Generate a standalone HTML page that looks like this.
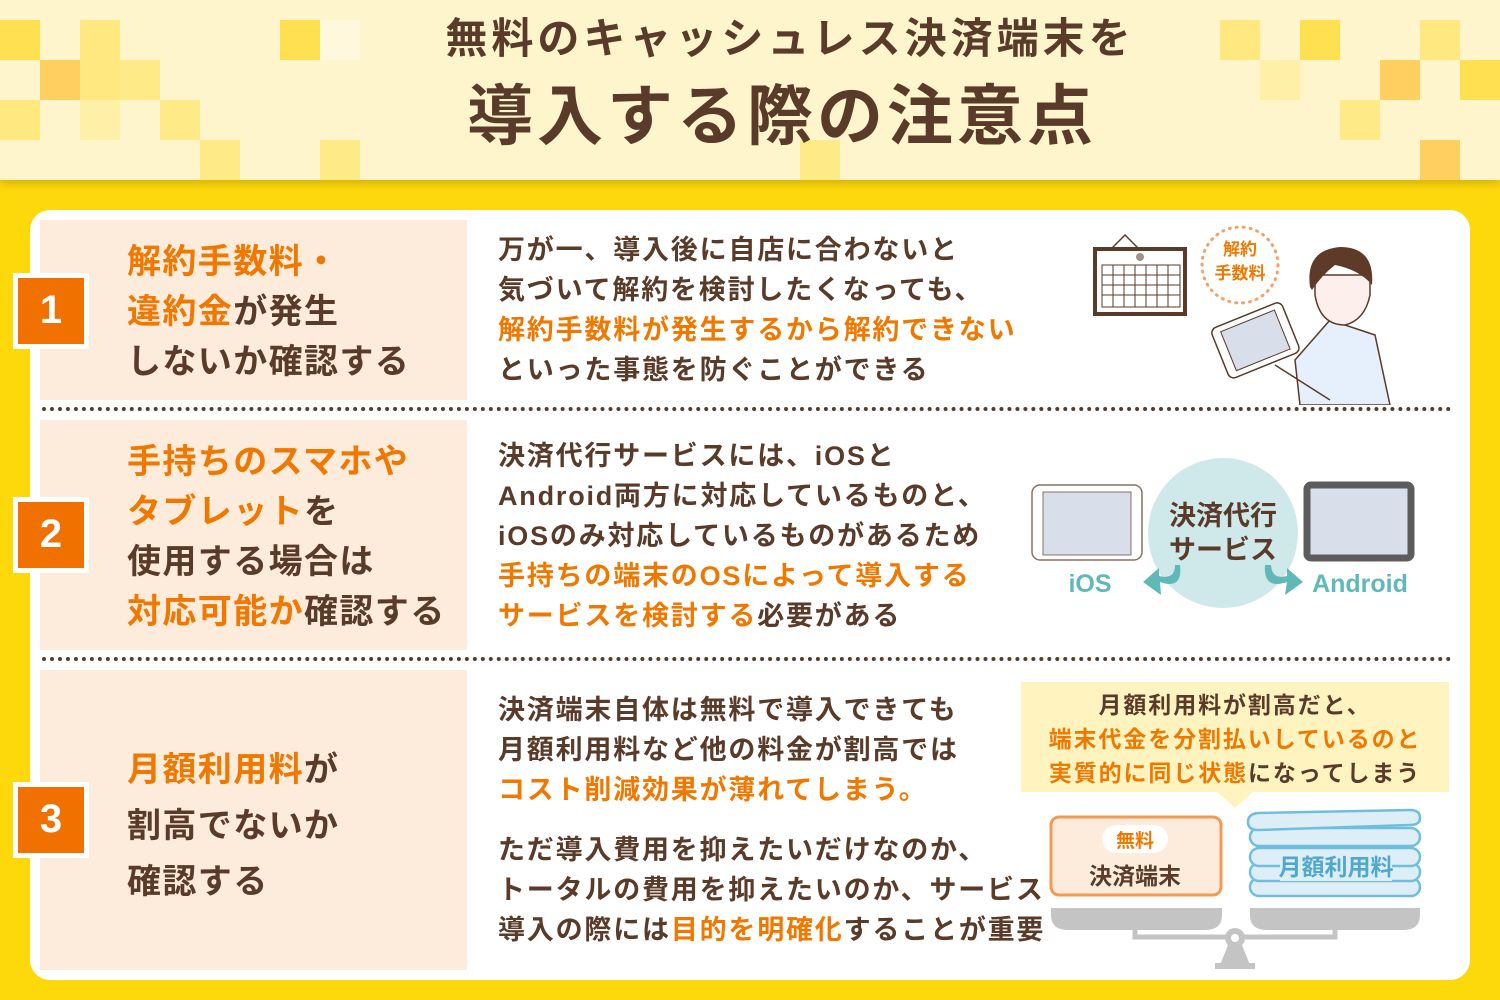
<!DOCTYPE html>
<html><head><meta charset="utf-8"><style>
*{margin:0;padding:0;box-sizing:border-box}
body{width:1500px;height:1000px;position:relative;overflow:hidden;background:#fdd90c;font-family:"Liberation Sans","Noto Sans CJK JP",sans-serif;font-weight:700;color:#5a3a28}
.a{position:absolute}
.hdr{left:0;top:0;width:1500px;height:180px;background:#fff5cc;box-shadow:0 4px 8px rgba(150,110,0,.35)}
.sq{position:absolute;width:40px;height:40px}
.card{left:30px;top:210px;width:1440px;height:770px;background:#fff;border-radius:20px}
.pan{position:absolute;left:40px;width:427px;background:#fdebdc}
.num{position:absolute;left:13px;width:76px;height:76px;background:#f07000;border:5px solid #fff;color:#fff;font-size:40px;text-align:center;line-height:64px;font-family:"Liberation Sans",sans-serif}
.dot{position:absolute;left:42px;width:1410px;border-top:4px dotted #5a3a28}
.lt{position:absolute;left:127px;font-size:34px;white-space:nowrap;letter-spacing:1.4px}
.rt{position:absolute;left:498px;font-size:27px;line-height:40px;white-space:nowrap;letter-spacing:1.8px}
.o{color:#f07800}
</style></head><body>
<div class="a hdr">
<div class="sq" style="left:0;top:20px;background:#ffe050"></div>
<div class="sq" style="left:80px;top:20px;background:#ffe880"></div>
<div class="sq" style="left:280px;top:20px;background:#ffe050"></div>
<div class="sq" style="left:320px;top:20px;background:#fff8dc"></div>
<div class="sq" style="left:40px;top:60px;background:#ffd060"></div>
<div class="sq" style="left:80px;top:60px;background:#ffe880"></div>
<div class="sq" style="left:120px;top:60px;background:#ffea88"></div>
<div class="sq" style="left:0;top:100px;background:#ffe880"></div>
<div class="sq" style="left:80px;top:100px;background:#fff0a8"></div>
<div class="sq" style="left:160px;top:100px;background:#ffea88"></div>
<div class="sq" style="left:200px;top:140px;background:#ffea88"></div>
<div class="sq" style="left:320px;top:140px;background:#ffea88"></div>
<div class="sq" style="left:1220px;top:20px;background:#ffe880"></div>
<div class="sq" style="left:1300px;top:20px;background:#ffe050"></div>
<div class="sq" style="left:1420px;top:20px;background:#ffe880"></div>
<div class="sq" style="left:1260px;top:60px;background:#fff0a8"></div>
<div class="sq" style="left:1380px;top:60px;background:#ffd060"></div>
<div class="sq" style="left:1460px;top:60px;background:#ffe050"></div>
<div class="sq" style="left:1340px;top:100px;background:#ffea88"></div>
<div class="sq" style="left:1420px;top:140px;background:#ffd060"></div>
<div class="sq" style="left:800px;top:140px;background:#ffea88"></div>
<div class="a" style="left:0;top:14px;width:1580px;text-align:center;font-size:42px;line-height:50px;letter-spacing:4px">無料のキャッシュレス決済端末を</div>
<div class="a" style="left:0;top:76px;width:1564px;text-align:center;font-size:66px;line-height:80px;letter-spacing:4px">導入する際の注意点</div>
</div>
<div class="a card"></div>
<div class="pan" style="top:220px;height:180px"></div>
<div class="pan" style="top:420px;height:230px"></div>
<div class="pan" style="top:670px;height:300px"></div>
<div class="dot" style="top:407px"></div>
<div class="dot" style="top:657px"></div>
<div class="num" style="top:273px">1</div>
<div class="num" style="top:497px">2</div>
<div class="num" style="top:782px">3</div>

<div class="lt" style="top:237px;line-height:50px"><span class="o">解約手数料・<br>違約金</span>が発生<br>しないか確認する</div>
<div class="rt" style="top:230px">万が一、導入後に自店に合わないと<br>気づいて解約を検討したくなっても、<br><span class="o">解約手数料が発生するから解約できない</span><br>といった事態を防ぐことができる</div>

<div class="lt" style="top:437px;line-height:50px"><span class="o">手持ちのスマホや<br>タブレット</span>を<br>使用する場合は<br><span class="o">対応可能か</span>確認する</div>
<div class="rt" style="top:436px">決済代行サービスには、iOSと<br>Android両方に対応しているものと、<br>iOSのみ対応しているものがあるため<br><span class="o">手持ちの端末のOSによって導入する<br>サービスを検討する</span>必要がある</div>

<div class="lt" style="top:742px;line-height:56px"><span class="o">月額利用料</span>が<br>割高でないか<br>確認する</div>
<div class="rt" style="top:690px"><span>決済端末自体は無料で導入できても</span><br>月額利用料など他の料金が割高では<br><span class="o">コスト削減効果が薄れてしまう。</span></div>
<div class="rt" style="top:830px">ただ導入費用を抑えたいだけなのか、<br>トータルの費用を抑えたいのか、サービス<br>導入の際には<span class="o">目的を明確化</span>することが重要</div>

<!-- illustration 1 -->
<svg class="a" style="left:1090px;top:225px" width="310" height="180">
<path d="M20 25 L35 10 L50 25" fill="none" stroke="#5a3a28" stroke-width="1.5"/>
<rect x="5" y="24" width="90" height="65" fill="#fff" stroke="#5a3a28" stroke-width="4"/>
<rect x="12" y="40" width="78" height="42" fill="#fff" stroke="#5a3a28" stroke-width="1"/>
<g stroke="#5a3a28" stroke-width="1"><line x1="12" y1="50" x2="90" y2="50"/><line x1="12" y1="60" x2="90" y2="60"/><line x1="12" y1="70" x2="90" y2="70"/><line x1="23" y1="40" x2="23" y2="82"/><line x1="34" y1="40" x2="34" y2="82"/><line x1="45" y1="40" x2="45" y2="82"/><line x1="56" y1="40" x2="56" y2="82"/><line x1="67" y1="40" x2="67" y2="82"/><line x1="78" y1="40" x2="78" y2="82"/></g>
<circle cx="50" cy="32" r="4" fill="#a09088"/>
<circle cx="150" cy="40" r="38" fill="none" stroke="#f8a060" stroke-width="3" stroke-dasharray="1 6" stroke-linecap="round"/>
<text x="150" y="30" text-anchor="middle" font-size="17" fill="#f07800" font-weight="700">解約</text>
<text x="150" y="54" text-anchor="middle" font-size="17" fill="#f07800" font-weight="700">手数料</text>
<path d="M210 180 L205 135 L240 95 L285 110 L300 180 Z" fill="#e6f0fc" stroke="#5a3a28" stroke-width="1.5"/>
<path d="M225 70 Q230 100 255 100 Q275 95 280 70 L280 50 L225 50 Z" fill="#fdf0ec" stroke="#5a3a28" stroke-width="1.5"/>
<path d="M220 62 Q215 25 250 22 Q285 22 282 60 Q270 45 245 40 Q232 50 222 65 Z" fill="#5e3a28"/>
<g transform="rotate(-22 160 110)"><rect x="125" y="90" width="76" height="54" rx="6" fill="#fff" stroke="#5a3a28" stroke-width="1.5"/><rect x="134" y="96" width="58" height="42" fill="#d8deea" stroke="#5a3a28" stroke-width="1"/></g>
<path d="M185 140 L240 175" stroke="#5a3a28" stroke-width="1.5" fill="none"/>
</svg>

<!-- illustration 2 -->
<svg class="a" style="left:1025px;top:455px" width="400" height="160">
<circle cx="198" cy="78" r="75" fill="#cfe9ea"/>
<rect x="7" y="30" width="110" height="75" rx="8" fill="#fff" stroke="#8a7060" stroke-width="1.5"/>
<rect x="18" y="37" width="88" height="63" fill="#d8deea" stroke="#8a7060" stroke-width="1"/>
<rect x="282" y="30" width="104" height="73" rx="4" fill="#d8deea" stroke="#5c5c5c" stroke-width="7"/>
<text x="198" y="70" text-anchor="middle" font-size="27" fill="#5a3a28" font-weight="700">決済代行</text>
<text x="198" y="104" text-anchor="middle" font-size="27" fill="#5a3a28" font-weight="700">サービス</text>
<path d="M155 110 Q158 135 135 127 L136 140 L118 127 L134 113 L134 121 Q150 125 150 110 Z" fill="#60b8b8"/>
<path d="M240 110 Q238 135 262 127 L260 140 L278 127 L262 113 L262 121 Q247 125 246 110 Z" fill="#60b8b8"/>
<text x="65" y="137" text-anchor="middle" font-size="25" fill="#60b8b8" font-weight="700">iOS</text>
<text x="335" y="137" text-anchor="middle" font-size="25" fill="#60b8b8" font-weight="700">Android</text>
</svg>

<!-- illustration 3 -->
<div class="a" style="left:1021px;top:682px;width:428px;height:110px;background:#fff3c0"></div>
<svg class="a" style="left:1210px;top:790px" width="50" height="20"><path d="M5 0 L25 18 L45 0Z" fill="#fff3c0"/></svg>
<div class="a" style="left:1021px;top:688px;width:428px;text-align:center;font-size:23px;line-height:34px;letter-spacing:1.9px"><span>月額利用料が割高だと、</span><br><span class="o">端末代金を分割払いしているのと<br>実質的に同じ状態</span>になってしまう</div>
<svg class="a" style="left:1040px;top:800px" width="400" height="175">
<rect x="11" y="17" width="170" height="78" rx="8" fill="#fdebdc" stroke="#f59a50" stroke-width="3"/>
<rect x="62" y="25" width="66" height="28" rx="14" fill="#fff"/>
<text x="95" y="47" text-anchor="middle" font-size="19" fill="#f07800" font-weight="700">無料</text>
<text x="95" y="84" text-anchor="middle" font-size="23" fill="#5a3a28" font-weight="700">決済端末</text>
<g fill="#deeef6" stroke="#70bede" stroke-width="2.5">
<rect x="210" y="78" width="170" height="18" rx="9"/><rect x="210" y="63" width="170" height="18" rx="9"/><rect x="210" y="48" width="170" height="18" rx="9"/><rect x="210" y="28" width="170" height="18" rx="9"/><path d="M218 13 L370 10 Q380 10 380 18 Q380 25 370 25 L218 30 Q208 30 208 22 Q208 14 218 13Z"/></g>
<rect x="240" y="55" width="112" height="26" fill="#deeef6"/>
<text x="296" y="75" text-anchor="middle" font-size="23" fill="#50a8cc" font-weight="700">月額利用料</text>
<path d="M11 108 H182 V115 Q182 130 165 130 H28 Q11 130 11 115Z" fill="#c4c4c4"/>
<path d="M210 108 H380 V115 Q380 130 363 130 H227 Q210 130 210 115Z" fill="#c4c4c4"/>
<path d="M95 128 V137 H295 V128" fill="none" stroke="#c4c4c4" stroke-width="5"/>
<circle cx="195" cy="138" r="10" fill="#c4c4c4"/><circle cx="195" cy="138" r="4" fill="#fff"/>
<path d="M188 145 L180 165 H210 L202 145Z" fill="#c4c4c4"/><rect x="175" y="163" width="40" height="6" fill="#c4c4c4"/>
</svg>
</body></html>
